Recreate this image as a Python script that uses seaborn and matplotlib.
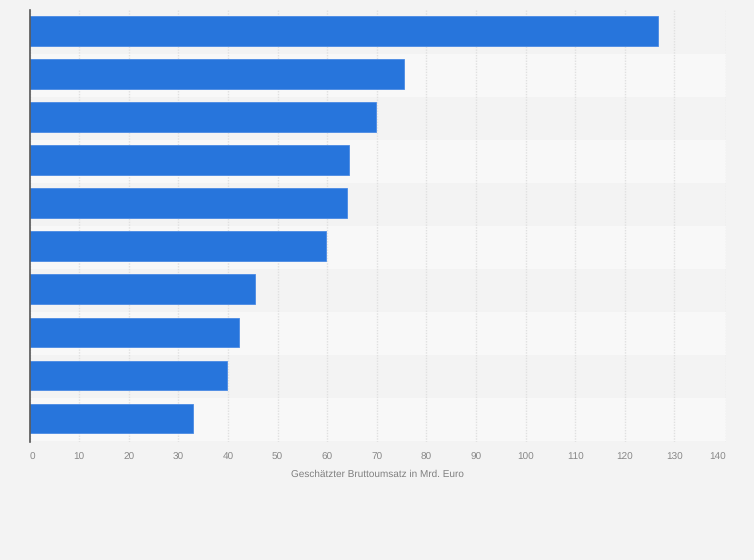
import pandas as pd
import seaborn as sns
import matplotlib
matplotlib.use("Agg")
import matplotlib.pyplot as plt

# the reference shows no category names, so the bars are just ranked
ranks = ["1", "2", "3", "4", "5", "6", "7", "8", "9", "10"]
umsatz = [126.7, 75.5, 69.9, 64.5, 64.1, 59.8, 45.4, 42.3, 39.9, 33.0]
x_ticks = [0, 10, 20, 30, 40, 50, 60, 70, 80, 90, 100, 110, 120, 130, 140]
x_title = "Geschätzter Bruttoumsatz in Mrd. Euro"

sns.set_theme(style="white")
plt.rcParams["font.family"] = ["Liberation Sans", "DejaVu Sans"]
plt.rcParams["text.hinting"] = "no_hinting"
plt.rcParams["text.hinting_factor"] = 1

bg = "#f3f3f3"
df = pd.DataFrame({"rank": ranks, "umsatz": umsatz})

fig = plt.figure(figsize=(7.54, 5.6), dpi=100, facecolor=bg)
ax = fig.add_axes([29.5 / 754, 1 - 442 / 560, 696 / 754, 432 / 560])
ax.set_facecolor(bg)

# alternating row bands, they sit about a pixel below the bars in the original
for i in range(len(ranks)):
    if i % 2 == 1:
        ax.axhspan(i - 0.466, i + 0.534, color="#f8f8f8", lw=0, zorder=0)

sns.barplot(data=df, x="umsatz", y="rank", order=ranks, orient="h", color="#2775dc",
            saturation=1, width=0.69, edgecolor="#4a8ae4", linewidth=0.6, ax=ax, zorder=3)

# the last gridline is slightly past 140 in the original
x_max = 140.3
ax.set_xlim(0, x_max)
ax.set_ylim(9.547, -0.488)
ax.set_xticks(x_ticks[:-1] + [x_max], labels=x_ticks)
ax.set_yticks([])
ax.set_ylabel("")
ax.set_xlabel(x_title, fontsize=7.1, color="#808080", labelpad=5.3)
ax.xaxis.grid(True, color="#e0e0e0", linestyle=(0, (1, 1)), linewidth=1)
ax.yaxis.grid(False)
ax.set_axisbelow(True)
ax.tick_params(axis="x", length=0, pad=7.7, labelsize=7, labelcolor="#888888")

labels = ax.get_xticklabels()
labels[0].set_ha("left")
labels[-1].set_ha("right")

for side in ["top", "right", "bottom"]:
    ax.spines[side].set_visible(False)
ax.spines["left"].set_color("#555555")
ax.spines["left"].set_linewidth(1.2)
ax.spines["left"].set_zorder(5)

fig.savefig("out.png", dpi=100, facecolor=bg)
